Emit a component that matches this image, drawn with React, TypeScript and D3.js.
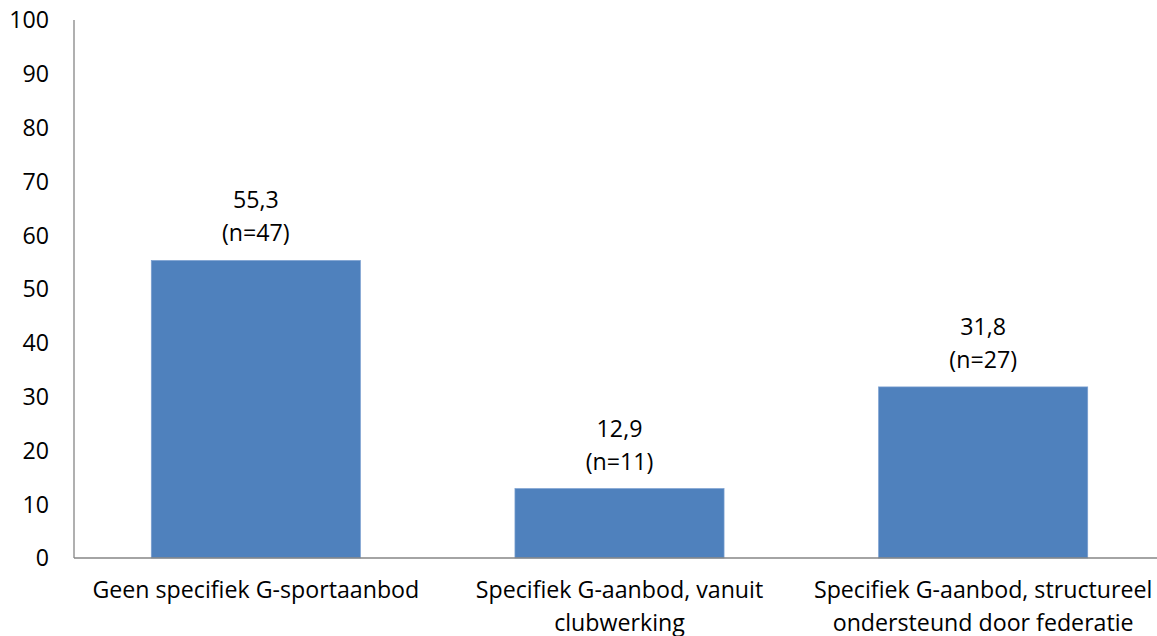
import * as d3 from 'd3';

const categories = [
  ['Geen specifiek G-sportaanbod'],
  ['Specifiek G-aanbod, vanuit', 'clubwerking'],
  ['Specifiek G-aanbod, structureel', 'ondersteund door federatie'],
];
const values = [55.3, 12.9, 31.8];
const counts = [47, 11, 27];
const yTicks = [0, 10, 20, 30, 40, 50, 60, 70, 80, 90, 100];

export default function App() {
  const width = 1157;
  const height = 636;
  const font = "'Open Sans', sans-serif";
  const fontSize = 23.2;

  const x = d3
    .scaleBand<number>()
    .domain(d3.range(values.length))
    .range([74, 1165])
    .paddingInner(0.425)
    .paddingOuter(0.2125);

  const y = d3.scaleLinear().domain([0, 100]).range([558, 20]);
  const fmt = (v: number) => v.toFixed(1).replace('.', ',');

  return (
    <svg
      width={width}
      height={height}
      style={{ position: 'absolute', left: 0, top: 0, background: '#fff', fontVariantLigatures: 'none' }}
      fontFamily={font}
      fontSize={fontSize}
    >
      {/* y tick labels */}
      {yTicks.map((t) => (
        <text key={t} x={49} y={y(t)} dy="0.36em" textAnchor="end" fill="#000">
          {t}
        </text>
      ))}

      {/* bars */}
      {values.map((v, i) => (
        <rect
          key={i}
          x={x(i)}
          y={y(v)}
          width={x.bandwidth()}
          height={y(0) - y(v)}
          fill="#4F81BD"
          stroke="#7A9FD0"
          strokeWidth={0.7}
        />
      ))}

      {/* value labels */}
      {values.map((v, i) => {
        const cx = (x(i) as number) + x.bandwidth() / 2;
        return (
          <text key={i} textAnchor="middle" fill="#000">
            <tspan x={cx} y={y(v) - 52}>{fmt(v)}</tspan>
            <tspan x={cx} y={y(v) - 19}>{`(n=${counts[i]})`}</tspan>
          </text>
        );
      })}

      {/* axes */}
      <line x1={74} x2={74} y1={y(100)} y2={y(0)} stroke="#868686" strokeWidth={1.3} />
      <line x1={74} x2={width} y1={y(0)} y2={y(0)} stroke="#868686" strokeWidth={1.3} />

      {/* category labels */}
      {categories.map((lines, i) => {
        const cx = (x(i) as number) + x.bandwidth() / 2;
        return (
          <text key={i} textAnchor="middle" fill="#000">
            {lines.map((l, j) => (
              <tspan key={j} x={cx} y={598 + j * 33}>{l}</tspan>
            ))}
          </text>
        );
      })}
    </svg>
  );
}
